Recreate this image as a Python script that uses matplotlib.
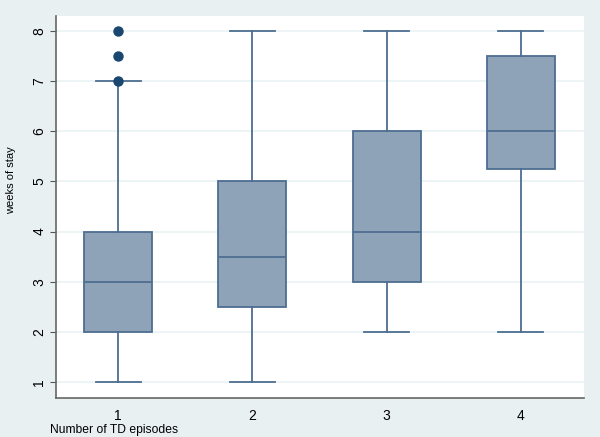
import matplotlib
matplotlib.use("Agg")
import matplotlib.pyplot as plt

plt.rcParams['font.family'] = ['Liberation Sans', 'DejaVu Sans']

# ---- data ----
episodes = ["1", "2", "3", "4"]
whisker_lo = [1, 1, 2, 2]
q1 = [2, 2.5, 3, 5.25]
median = [3, 3.5, 4, 6]
q3 = [4, 5, 6, 7.5]
whisker_hi = [7, 8, 8, 8]
outliers = [[7, 7.5, 8], [], [], []]

bg = "#e8f0f2"
fill = "#8fa3b8"
edge = "#4d6d91"
dot = "#1a476f"

stats = []
for i, lab in enumerate(episodes):
    stats.append(dict(label=lab, whislo=whisker_lo[i], q1=q1[i], med=median[i],
                      q3=q3[i], whishi=whisker_hi[i], fliers=outliers[i]))

fig = plt.figure(figsize=(6, 4.37), dpi=100, facecolor=bg)
ax = fig.add_axes([56 / 600, 1 - 398 / 437, (584 - 56) / 600, (398 - 16) / 437])
ax.set_facecolor("white")

ax.bxp(stats, positions=[1, 2, 3, 4], widths=0.506, patch_artist=True,
       boxprops=dict(facecolor=fill, edgecolor=edge, linewidth=1.3),
       medianprops=dict(color=edge, linewidth=1.3),
       whiskerprops=dict(color=edge, linewidth=1.3),
       capprops=dict(color=edge, linewidth=1.3),
       capwidths=0.335,
       flierprops=dict(marker="o", markerfacecolor=dot, markeredgecolor=dot,
                       markersize=6.5))

ax.set_xlim(0.538, 4.47)
ax.set_ylim(0.68, 8.30)
ax.set_yticks(range(1, 9))
ax.set_yticklabels([str(v) for v in range(1, 9)], rotation=90, va="center")
ax.yaxis.grid(True, color="#eaf2f3", linewidth=1.2)
ax.set_axisbelow(True)

ax.tick_params(axis="x", length=0, labelsize=10, pad=8)
ax.tick_params(axis="y", length=4, color="#555555", labelsize=10, pad=3)

for s in ["top", "right"]:
    ax.spines[s].set_visible(False)
for s in ["left", "bottom"]:
    ax.spines[s].set_color("#666666")
    ax.spines[s].set_linewidth(1.2)

ax.set_ylabel("weeks of stay", fontsize=8)
ax.yaxis.set_label_coords(-0.075, 0.57)
fig.text(50 / 600, 1 - 433 / 437, "Number of TD episodes", fontsize=8.7, ha="left", va="baseline")

fig.savefig("out.png", dpi=100, facecolor=bg)
